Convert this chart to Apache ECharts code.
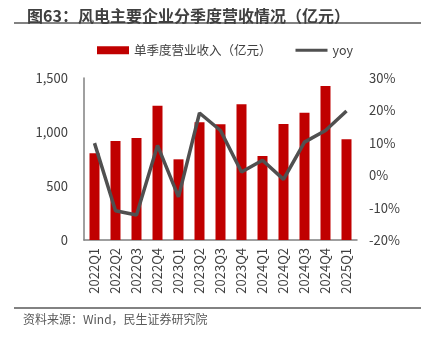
<!DOCTYPE html>
<html><head><meta charset="utf-8">
<script src="https://cdn.jsdelivr.net/npm/echarts@6/dist/echarts.min.js"></script>
<style>html,body{margin:0;padding:0;background:#fff}#c{width:427px;height:337px}</style>
</head><body><div id="c"></div>
<script>
const categories = ['2022Q1','2022Q2','2022Q3','2022Q4','2023Q1','2023Q2','2023Q3','2023Q4','2024Q1','2024Q2','2024Q3','2024Q4','2025Q1'];
const revenue = [803, 917, 944, 1244, 747, 1090, 1071, 1256, 778, 1074, 1179, 1426, 932];
const yoy = [9.9, -11.0, -12.3, 9.2, -6.7, 19.2, 13.8, 1.0, 4.6, -1.3, 10.2, 13.8, 19.8];
const leftTicks = [0, 500, 1000, 1500];
const rightTicks = [-20, -10, 0, 10, 20, 30];

const chart = echarts.init(document.getElementById('c'));
const font = '"Microsoft YaHei","Noto Sans CJK SC","Noto Sans",sans-serif';
chart.setOption({
  animation: false,
  textStyle: {fontFamily: font},
  title: {
    text: '图63：风电主要企业分季度营收情况（亿元）',
    left: 22, top: 3,
    textStyle: {fontSize: 16, fontWeight: 'bold', color: '#404040', fontFamily: font}
  },
  graphic: [
    {type: 'line', shape: {x1: 14, y1: 23, x2: 421, y2: 23}, style: {stroke: '#595959', lineWidth: 1.5}},
    {type: 'line', shape: {x1: 14, y1: 308, x2: 421, y2: 308}, style: {stroke: '#595959', lineWidth: 1.5}},
    {type: 'text', left: 23, top: 313, style: {text: '资料来源：Wind，民生证券研究院', fontSize: 12, fill: '#595959', fontFamily: font}}
  ],
  legend: {
    top: 39, left: 92,
    itemGap: 24,
    itemWidth: 32, itemHeight: 8,
    textStyle: {fontSize: 12.5, color: '#404040', fontFamily: font},
    data: [
      {name: '单季度营业收入（亿元）', icon: 'rect'},
      {name: 'yoy', icon: 'path://M0,0 L32,0 L32,3 L0,3 Z'}
    ]
  },
  grid: {left: 84, right: 70, top: 78, bottom: 97, containLabel: false},
  xAxis: {
    type: 'category', data: categories,
    axisLine: {lineStyle: {color: '#808080', width: 1.5}},
    axisTick: {show: false},
    axisLabel: {rotate: 90, fontSize: 13, color: '#404040', margin: 8, interval: 0}
  },
  yAxis: [
    {type: 'value', min: 0, max: 1500, interval: 500,
     axisLine: {show: true, lineStyle: {color: '#808080', width: 1.5}},
     axisTick: {show: false}, splitLine: {show: false},
     axisLabel: {fontSize: 13, color: '#404040', margin: 16,
       formatter: v => leftTicks.includes(v) ? v.toLocaleString('en-US') : ''}},
    {type: 'value', min: -20, max: 30, interval: 10,
     axisLine: {show: false}, axisTick: {show: false}, splitLine: {show: false},
     axisLabel: {fontSize: 13, color: '#404040', margin: 12,
       formatter: v => rightTicks.includes(v) ? v + '%' : ''}}
  ],
  series: [
    {name: '单季度营业收入（亿元）', type: 'bar', data: revenue, barWidth: 10,
     itemStyle: {color: '#C00000'}},
    {name: 'yoy', type: 'line', yAxisIndex: 1, data: yoy, symbol: 'none',
     lineStyle: {color: '#505050', width: 3.5}, itemStyle: {color: '#505050'}}
  ]
});
</script></body></html>
